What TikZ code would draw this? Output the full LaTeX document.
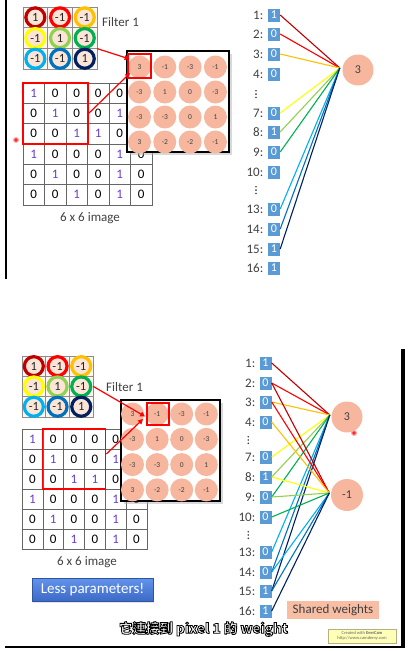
\documentclass[tikz,border=0pt]{standalone}
\usepackage{fontspec}
\setmainfont{Carlito}
\newfontfamily\cjk{Noto Sans CJK TC}
\usetikzlibrary{arrows.meta,calc,fit,shadows}
\definecolor{cdr}{HTML}{C00000}
\definecolor{cred}{HTML}{FF0000}
\definecolor{cgold}{HTML}{FFC000}
\definecolor{cyel}{HTML}{FFFF00}
\definecolor{clg}{HTML}{92D050}
\definecolor{cgrn}{HTML}{00B050}
\definecolor{clb}{HTML}{00B0F0}
\definecolor{cblu}{HTML}{0070C0}
\definecolor{cnav}{HTML}{002060}
\definecolor{cpur}{HTML}{6A3CCB}
\definecolor{cpeach}{HTML}{FBE5D6}
\definecolor{csal}{HTML}{F6B79E}
\definecolor{cbox}{HTML}{5B9BD5}
\definecolor{ctxt}{HTML}{404040}
\definecolor{cshw}{HTML}{F7BEA4}
\definecolor{cbtnT}{HTML}{6393EA}
\definecolor{cbtnB}{HTML}{3C6AC8}
\definecolor{cevc}{HTML}{FFFFB8}

\newcommand\outlinedtext[1]{\special{pdf:literal direct 0 G 2 Tr 0.85 w}#1\special{pdf:literal direct 0 Tr}}
\newcommand\celldigit[1]{\ifnum#1=1 \textcolor{cpur}{1}\else 0\fi}

\tikzset{
 fcell/.style={draw=black!45, line width=0.5pt, fill=cpeach!40, inner sep=0pt},
 ring/.style={circle, draw=#1, line width=3.2pt, fill=cpeach, minimum size=19pt, inner sep=0pt, text=black!85, font=\fontsize{12.5}{12.5}\selectfont},
 icell/.style={draw=black!60, line width=0.5pt, inner sep=0pt, font=\fontsize{13}{13}\selectfont},
 ocirc/.style={circle, fill=csal, minimum size=23pt, inner sep=0pt, text=ctxt, font=\fontsize{7.5}{8}\selectfont},
 panel/.style={draw=black, line width=1.2pt, fill=white, drop shadow={shadow xshift=2.5pt, shadow yshift=-2.5pt, fill=black!30}},
 redbox/.style={draw=cred, line width=1.8pt, inner sep=0pt},
 redarrow/.style={draw=cred, line width=1.2pt, -{Triangle[length=5pt,width=5pt]}},
 bbox/.style={fill=cbox, text=white, minimum width=12pt, minimum height=13pt, inner sep=0pt, font=\fontsize{12}{12}\selectfont},
 lab/.style={anchor=east, text=ctxt, inner sep=0pt, font=\fontsize{13}{13}\selectfont},
 bigc/.style={circle, fill=csal, inner sep=0pt, text=ctxt, font=\fontsize{12}{12}\selectfont},
 wline/.style={line width=1.1pt},
 plain/.style={text=ctxt, inner sep=0pt, font=\fontsize{13}{13}\selectfont},
 subt/.style={inner sep=0pt, font=\cjk\bfseries\fontsize{13.5}{13.5}\selectfont},
 vdot/.style={circle, fill=ctxt, inner sep=0pt, minimum size=1.8pt},
}

% filter grid: #1 prefix, #2 x0, #3 y0, #4 cell width, #5 cell height
\newcommand\filtergrid[5]{%
  \foreach \v/\col [count=\k from 0] in {1/cdr,-1/cred,-1/cgold,-1/cyel,1/clg,-1/cgrn,-1/clb,-1/cblu,1/cnav}{%
    \pgfmathtruncatemacro\rr{\k/3}%
    \pgfmathtruncatemacro\cc{\k-3*\rr}%
    \node[fcell, minimum width=#4pt, minimum height=#5pt] (#1\rr\cc) at ({#2+#4*(\cc+0.5)},{#3+#5*(\rr+0.5)}) {};
  }%
  \foreach \v/\col [count=\k from 0] in {1/cdr,-1/cred,-1/cgold,-1/cyel,1/clg,-1/cgrn,-1/clb,-1/cblu,1/cnav}{%
    \pgfmathtruncatemacro\rr{\k/3}%
    \pgfmathtruncatemacro\cc{\k-3*\rr}%
    \node[ring=\col] (#1r\rr\cc) at (#1\rr\cc) {\v};
  }%
}
% image grid (cells of column 6, rows 1-3 lie under the output panel)
\newcommand\imagegrid[5]{%
  \foreach \row [count=\ii from 0] in {{1,0,0,0,0,1},{0,1,0,0,1,0},{0,0,1,1,0,0},{1,0,0,0,1,0},{0,1,0,0,1,0},{0,0,1,0,1,0}}{%
    \foreach \v [count=\jj from 0] in \row {%
      \node[icell, minimum width=#4pt, minimum height=#5pt] (#1\ii\jj) at ({#2+#4*(\jj+0.5)},{#3+#5*(\ii+0.5)}) {\ifnum\jj=5 \ifnum\ii<3 \else\celldigit{\v}\fi\else\celldigit{\v}\fi};
    }%
  }%
}
% output circles: #1 prefix, #2 x0, #3 y0, #4 dx, #5 dy
\newcommand\outcircles[5]{%
  \foreach \v [count=\k from 0] in {3,-1,-3,-1,-3,1,0,-3,-3,-3,0,1,3,-2,-2,-1}{%
    \pgfmathtruncatemacro\rr{\k/4}%
    \pgfmathtruncatemacro\cc{\k-4*\rr}%
    \node[ocirc] (#1\rr\cc) at ({#2+#4*\cc},{#3+#5*\rr}) {\v};
  }%
}

\begin{document}
\begin{tikzpicture}[x=1pt,y=-1pt]
\useasboundingbox (0,0) rectangle (416,651);

% ================= TOP PANEL =================
\draw[line width=2pt] (6,0) -- (6,279);

\filtergrid{tf}{23}{7}{24.7}{20.7}
\node[plain, anchor=west] (tfl) at (102,22) {Filter 1};

\imagegrid{ti}{23}{83}{21.5}{20.3}
\node[redbox, fit=(ti00)(ti22)] (tirb) {};
\node[plain] (tic) at (90,218) {6 x 6 image};
\fill[cred!35] (16,140) circle (3);
\fill[cred!85] (16,140) circle (1.8);

\node[panel, minimum width=102pt, minimum height=101pt, inner sep=0pt] (tp) at (178,101.5) {};
\outcircles{to}{139.5}{67}{25.3}{25}
\node[redbox, minimum width=23pt, minimum height=24pt] (torb) at (139.5,66) {};

\draw[redarrow] (tf12.south east) -- ([shift={(2.5,-7)}]torb.west);
\draw[redarrow] (tirb.east) -- ([shift={(3,7)}]torb.west);

% right side
\foreach \nn/\y/\v in {1/15/1,2/34/0,3/54/0,4/74/0,7/113/0,8/132/1,9/152/0,10/172/0,13/209/0,14/229/0,15/249/1,16/268/1}{%
  \node[bbox] (tb\nn) at (274,\y) {\v};
  \node[lab] (tl\nn) at (263.5,\y) {\nn:};
}
\foreach \y in {90.8,94.1,97.4} \node[vdot] at (256,\y) {};
\foreach \y in {186.8,190.1,193.4} \node[vdot] at (256,\y) {};

\node[bigc, minimum size=31pt] (tc) at (358,70) {3};
\foreach \s/\col in {1/cdr,2/cred,3/cgold,7/cyel,8/clg,9/cgrn,13/clb,14/cblu,15/cnav}
  \draw[wline, \col] (tb\s.east) -- ([shift={(-2.5,-2)}]tc.west);

% ================= BOTTOM PANEL =================
\draw[line width=1.8pt] (5,647) -- (404,647);
\draw[line width=4pt] (403,349) -- (403,648);

\filtergrid{bf}{22}{356}{23.7}{20.3}
\node[plain, anchor=west] (bfl) at (106,387) {Filter 1};

\imagegrid{bi}{22}{429}{20.8}{20}
\node[redbox, fit=(bi01)(bi23)] (birb) {};
\node[plain] (bic) at (87,562) {6 x 6 image};

\node[minimum width=121pt, minimum height=23pt, inner sep=0pt, top color=cbtnT, bottom color=cbtnB, draw=cbtnB!80!black, line width=0.4pt, text=white, font=\fontsize{15}{15}\selectfont, drop shadow={shadow xshift=1pt, shadow yshift=-1.5pt, fill=black!20}] (lp) at (92.5,589.5) {Less parameters!};

\node[panel, minimum width=99pt, minimum height=101pt, inner sep=0pt] (bp) at (170.5,450.5) {};
\outcircles{bo}{132.5}{414}{24.6}{25.3}
\node[redbox, minimum width=22pt, minimum height=22pt] (borb) at (158,414) {};

\draw[redarrow] (bf12.east) -- ([shift={(-1,2.5)}]borb.west);
\draw[redarrow] ([shift={(0,-5)}]birb.east) -- ([shift={(-3,5)}]borb.west);

% right side
\foreach \nn/\y/\v in {1/363/1,2/383/0,3/402/0,4/422/0,7/457/0,8/477/1,9/497/0,10/517/0,13/552/0,14/572/0,15/591/1,16/611/1}{%
  \node[bbox] (bb\nn) at (265.5,\y) {\v};
  \node[lab] (bl\nn) at (255.5,\y) {\nn:};
}
\foreach \y in {436.7,440,443.3} \node[vdot] at (248.3,\y) {};
\foreach \y in {531.7,535,538.3} \node[vdot] at (248.3,\y) {};

\node[bigc, minimum size=31pt] (bc1) at (347,417) {3};
\node[bigc, minimum size=32pt] (bc2) at (347,495) {-1};
\foreach \s/\col in {1/cdr,2/cred,3/cgold,7/cyel,8/clg,9/cgrn,13/clb,14/cblu,15/cnav}
  \draw[wline, \col] (bb\s.east) -- ([shift={(-1.5,-2)}]bc1.west);
\foreach \s/\col in {2/cdr,3/cred,4/cgold,8/cyel,9/clg,10/cgrn,14/clb,15/cblu,16/cnav}
  \draw[wline, \col] (bb\s.east) -- ([shift={(-1.5,-2)}]bc2.west);
\fill[cred!35] (354,433) circle (3);
\fill[cred!85] (354,433) circle (1.8);

\node[fill=cshw, minimum width=92pt, minimum height=18pt, inner sep=0pt, text=ctxt, font=\fontsize{13}{13}\selectfont] (shw) at (333,610) {Shared weights};

% watermark box
\node[fill=cevc, draw=cevc!70!black, line width=0.3pt, minimum width=68pt, minimum height=14pt, inner sep=0pt, align=center, text=black!60, font=\fontsize{4.5}{5}\selectfont] (evc) at (362,636) {Created with \textbf{EverCam}\\http://www.camdemy.com};

% subtitle (white text with black outline)
\node[subt, text=white] (sub) at (203.5,629) {\outlinedtext{它連接到 pixel 1 的 weight}};

\end{tikzpicture}
\end{document}
